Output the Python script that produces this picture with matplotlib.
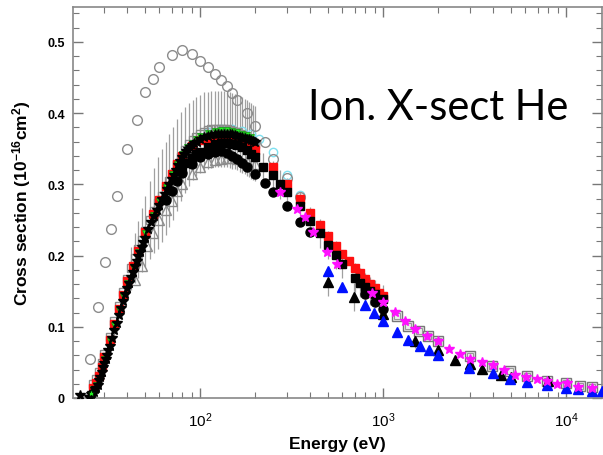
import numpy as np
import matplotlib
matplotlib.use("Agg")
import matplotlib.pyplot as plt
from matplotlib.ticker import FixedLocator, FuncFormatter, LogLocator, MultipleLocator, NullFormatter

plt.rcParams['font.family'] = ['Liberation Sans', 'DejaVu Sans']
plt.rcParams['mathtext.fontset'] = 'custom'
plt.rcParams['mathtext.rm'] = 'Liberation Sans'
plt.rcParams['mathtext.bf'] = 'Liberation Sans:bold'
plt.rcParams['mathtext.default'] = 'regular'

# --- theory (open grey circles)
e_theory = [25, 27.7, 30.3, 32.6, 35.2, 40, 45, 50, 55, 60, 70, 80, 90, 100, 110, 120,
            130, 140, 150, 160, 180, 200, 225, 250, 300, 350]
s_theory = [0.055, 0.128, 0.191, 0.237, 0.284, 0.350, 0.390, 0.430, 0.448, 0.465, 0.482,
            0.489, 0.483, 0.473, 0.465, 0.455, 0.447, 0.438, 0.428, 0.419, 0.400, 0.382,
            0.360, 0.336, 0.309, 0.282]

# --- cyan open circles
e_cyan = [110, 130, 150, 170, 190, 210, 250, 300, 350]
s_cyan = [0.374, 0.377, 0.377, 0.375, 0.370, 0.363, 0.345, 0.313, 0.285]

# --- open squares with error bars (low energy)
e_osq = [26, 27, 28, 29, 30, 32, 34, 36, 38, 40, 42, 44, 46, 48, 50, 53, 56, 59, 62, 65,
         68, 71, 75, 79, 83, 87, 91, 95, 100, 105, 110, 115, 120, 125, 130, 135, 140, 145,
         150, 155, 160, 165, 170, 175, 180, 185, 190, 195, 200]
s_osq = [0.020, 0.026, 0.036, 0.049, 0.062, 0.086, 0.108, 0.129, 0.149, 0.167, 0.182,
         0.196, 0.209, 0.222, 0.234, 0.250, 0.263, 0.274, 0.284, 0.294, 0.305, 0.315,
         0.327, 0.339, 0.348, 0.356, 0.362, 0.367, 0.371, 0.374, 0.376, 0.377, 0.378,
         0.378, 0.378, 0.378, 0.377, 0.376, 0.375, 0.374, 0.373, 0.371, 0.369, 0.367,
         0.365, 0.363, 0.361, 0.359, 0.357]
err_osq = [0, 0, 0, 0, 0, 0, 0, 0, 0, 0, 0.03, 0.035, 0.04, 0.045, 0.05, 0.055, 0.06,
           0.065, 0.065, 0.065, 0.065, 0.065, 0.065, 0.062, 0.06, 0.058, 0.056, 0.055,
           0.055, 0.055, 0.054, 0.054, 0.053, 0.053, 0.053, 0.053, 0.053, 0.053, 0.053,
           0.053, 0.053, 0.053, 0.053, 0.053, 0.053, 0.053, 0.053, 0.053, 0.053]

# --- open squares (high energy)
e_osq_hi = [1191, 1370, 1570, 1760, 1990, 2990, 3940, 4940, 6100, 7850, 10000, 11900, 13900]
s_osq_hi = [0.115, 0.101, 0.094, 0.087, 0.080, 0.059, 0.045, 0.038, 0.031, 0.024, 0.021,
            0.017, 0.015]

# --- red squares
e_red = [26, 27, 28, 29, 30, 32, 34, 36, 38, 40, 43, 46, 50, 55, 60, 65, 70, 75, 80, 90,
         100, 110, 120, 130, 140, 150, 160, 170, 180, 190, 200, 250, 300, 350, 400, 450,
         500, 550, 600, 650, 700, 750, 800, 850, 900, 950, 1000]
s_red = [0.014, 0.021, 0.031, 0.044, 0.057, 0.082, 0.104, 0.125, 0.145, 0.164, 0.186,
         0.207, 0.233, 0.259, 0.278, 0.298, 0.314, 0.329, 0.340, 0.354, 0.362, 0.364,
         0.365, 0.365, 0.364, 0.362, 0.360, 0.357, 0.354, 0.351, 0.348, 0.324, 0.300,
         0.280, 0.260, 0.243, 0.228, 0.214, 0.202, 0.192, 0.183, 0.175, 0.167, 0.160,
         0.154, 0.148, 0.143]

# --- black squares
e_bsq = [80, 85, 90, 95, 100, 110, 120, 130, 140, 150, 160, 170, 180, 190, 200, 220, 250,
         275, 300, 350, 400, 450, 500, 550, 600, 700, 750, 800, 850, 900, 1000]
s_bsq = [0.322, 0.330, 0.337, 0.342, 0.346, 0.352, 0.356, 0.358, 0.358, 0.357, 0.355,
         0.352, 0.348, 0.343, 0.338, 0.324, 0.313, 0.300, 0.289, 0.270, 0.248, 0.231,
         0.215, 0.201, 0.188, 0.169, 0.162, 0.156, 0.150, 0.146, 0.139]
err_bsq = [0] * 15 + [0.02] * 16

# --- black circles
e_bci = [65, 70, 75, 80, 90, 100, 110, 120, 130, 140, 150, 160, 170, 180, 200, 225, 250,
         300, 350, 400, 800, 900, 1000]
s_bci = [0.278, 0.291, 0.304, 0.316, 0.329, 0.338, 0.343, 0.346, 0.347, 0.344, 0.340,
         0.335, 0.330, 0.324, 0.315, 0.302, 0.289, 0.270, 0.247, 0.233, 0.146, 0.135,
         0.125]

# --- open triangles
e_otr = [44, 48, 51, 55, 60, 65, 70, 75, 80, 90, 100, 110, 120, 130, 140, 150, 160, 180, 200]
s_otr = [0.165, 0.185, 0.213, 0.232, 0.250, 0.264, 0.277, 0.290, 0.300, 0.315, 0.325,
         0.331, 0.334, 0.336, 0.337, 0.337, 0.336, 0.333, 0.328]

# --- green triangles
e_grn = [26, 27, 28, 30, 32, 34, 36, 38, 40, 43, 46, 50, 55, 60, 65, 70, 75, 80, 85, 90,
         95, 100, 110, 120, 130, 140, 150, 160, 170, 180, 190]
s_grn = [0.012, 0.018, 0.028, 0.055, 0.080, 0.102, 0.123, 0.143, 0.162, 0.184, 0.205,
         0.231, 0.257, 0.277, 0.296, 0.314, 0.328, 0.342, 0.352, 0.358, 0.364, 0.368,
         0.372, 0.375, 0.376, 0.376, 0.375, 0.373, 0.371, 0.369, 0.366]

# --- black stars
e_bst = [22.1, 24.6, 25, 25.4, 25.8, 26.2, 26.6, 27, 27.5, 28, 28.5, 29, 29.5, 30, 30.5,
         31, 31.5, 32, 33, 34, 35, 36, 37, 38, 39, 40, 41, 42, 43, 44, 45, 46, 47, 48, 49,
         50, 52, 54, 56, 58, 60, 62, 64, 66, 68, 70, 72, 74, 76, 78, 80, 82, 84, 86, 88,
         90, 93, 96, 100, 105, 110, 115, 120, 125, 130, 135, 140, 145, 150, 155, 160, 165,
         170, 175, 180, 185, 190, 195, 200]
s_bst = [0.004, 0.001, 0.002, 0.005, 0.007, 0.009, 0.012, 0.014, 0.018, 0.025, 0.030,
         0.036, 0.043, 0.049, 0.055, 0.061, 0.067, 0.073, 0.084, 0.095, 0.105, 0.116,
         0.126, 0.136, 0.146, 0.155, 0.162, 0.170, 0.177, 0.185, 0.192, 0.199, 0.205,
         0.212, 0.219, 0.225, 0.237, 0.247, 0.256, 0.264, 0.271, 0.279, 0.286, 0.293,
         0.300, 0.307, 0.313, 0.320, 0.327, 0.333, 0.338, 0.343, 0.347, 0.350, 0.353,
         0.355, 0.358, 0.360, 0.363, 0.366, 0.368, 0.369, 0.370, 0.371, 0.371, 0.371,
         0.371, 0.370, 0.370, 0.369, 0.368, 0.367, 0.366, 0.365, 0.364, 0.363, 0.362,
         0.361, 0.360]
e_gst = [25.4]
s_gst = [0.007]

# --- magenta stars
e_mag = [275, 340, 375, 415, 495, 560, 870, 1000, 1160, 1318, 1496, 1737, 2000, 2296,
         2628, 2990, 3480, 3998, 4580, 5290, 6020, 6920, 7860, 8950, 10170, 11600, 13800]
s_mag = [0.289, 0.265, 0.254, 0.233, 0.205, 0.188, 0.148, 0.135, 0.121, 0.108, 0.097,
         0.087, 0.080, 0.069, 0.062, 0.055, 0.051, 0.046, 0.040, 0.032, 0.030, 0.027,
         0.024, 0.020, 0.021, 0.016, 0.014]

# --- blue triangles
e_blu = [500, 596, 797, 893, 1000, 1191, 1370, 1592, 1787, 1995, 2950, 3990, 4940, 6100,
         7850, 10000, 11600, 13900, 15700]
s_blu = [0.178, 0.156, 0.131, 0.119, 0.108, 0.093, 0.081, 0.073, 0.067, 0.060, 0.042,
         0.035, 0.027, 0.022, 0.018, 0.014, 0.012, 0.010, 0.010]

# --- black triangles
e_btr = [500, 694, 1000, 1494, 1995, 2470, 2990, 3480, 4410, 5000, 7950]
s_btr = [0.163, 0.142, 0.118, 0.080, 0.067, 0.053, 0.048, 0.041, 0.032, 0.029, 0.024]
err_btr = [0.02, 0.02, 0.015, 0.01, 0.008, 0, 0, 0, 0, 0, 0]

fig = plt.figure(figsize=(6.03, 4.56), dpi=100)
ax = fig.add_axes([73 / 603, 1 - 399 / 456, 529 / 603, 391 / 456])
ax.set_xscale('log')

grey = '#8c8c8c'
ax.errorbar(e_osq, s_osq, yerr=err_osq, fmt='none', ecolor='#a0a0a0', elinewidth=0.9, zorder=1)
ax.errorbar(e_bsq, s_bsq, yerr=err_bsq, fmt='none', ecolor='#a0a0a0', elinewidth=0.9, zorder=1)
ax.errorbar(e_btr, s_btr, yerr=err_btr, fmt='none', ecolor='#a0a0a0', elinewidth=0.9, zorder=1)

ax.plot(e_cyan, s_cyan, 'o', ms=6, mfc='none', mec='#7fe0f0', mew=1, zorder=2)
ax.plot(e_theory, s_theory, 'o', ms=7, mfc='none', mec=grey, mew=1, zorder=3)
ax.plot(e_otr, s_otr, '^', ms=6.5, mfc='none', mec=grey, mew=1, zorder=3)
ax.plot(e_osq, s_osq, 's', ms=6, mfc='none', mec=grey, mew=1, zorder=3)
ax.plot(e_osq_hi, s_osq_hi, 's', ms=7.5, mfc='#eeeeee', mec='#777777', mew=1, zorder=3)
ax.plot(e_osq_hi, s_osq_hi, 's', ms=4.5, mfc='none', mec='#999999', mew=0.8, zorder=3)
ax.plot(e_red, s_red, 's', ms=6, color='#ff1010', mec='#ff1010', zorder=4)
ax.plot(e_grn, s_grn, 'v', ms=5, color='#22ee22', mec='#119911', mew=0.5, zorder=5)
ax.plot(e_bsq, s_bsq, 's', ms=6, color='black', zorder=6)
ax.plot(e_bci, s_bci, 'o', ms=6.5, color='black', zorder=6)
ax.plot(e_bst, s_bst, '*', ms=7, color='black', zorder=7)
ax.plot(e_gst, s_gst, '*', ms=6, color='#22ee22', mec='black', mew=0.5, zorder=7)
ax.plot(e_btr, s_btr, '^', ms=6.5, color='black', zorder=6)
ax.plot(e_blu, s_blu, '^', ms=6.5, color='#0010ff', zorder=6)
ax.plot(e_mag, s_mag, '*', ms=7, color='#ff10ff', mec='#ff10ff', zorder=7)

ax.set_xlim(20.2, 15740)
ax.set_ylim(0, 0.549)

ax.xaxis.set_major_locator(FixedLocator([1e2, 1e3, 1e4]))
ax.xaxis.set_major_formatter(FuncFormatter(lambda v, p: r'$10^{%d}$' % round(np.log10(v))))
ax.xaxis.set_minor_locator(LogLocator(base=10, subs=np.arange(2, 10), numticks=20))
ax.xaxis.set_minor_formatter(NullFormatter())
ax.yaxis.set_major_locator(MultipleLocator(0.1))
ax.yaxis.set_minor_locator(MultipleLocator(0.02))
ax.yaxis.set_major_formatter(FuncFormatter(lambda v, p: '0' if abs(v) < 1e-9 else '%.1f' % v))

ax.tick_params(which='both', direction='in', top=True, right=True, color='#777777')
ax.tick_params(which='major', length=7, width=1)
ax.tick_params(which='minor', length=4, width=0.8)
ax.tick_params(axis='y', labelsize=9, pad=6)
ax.tick_params(axis='x', labelsize=11, pad=9)
for lab in ax.get_yticklabels():
    lab.set_fontweight('bold')
for sp in ax.spines.values():
    sp.set_color('#888888')
    sp.set_linewidth(1.2)

ax.set_ylabel(r'Cross section (10$^{-16}$cm$^{2}$)', fontsize=12.5, fontweight='bold')
ax.yaxis.set_label_coords(-0.0756, 0.5)
ax.set_xlabel('Energy (eV)', fontsize=12.5, fontweight='bold')
ax.xaxis.set_label_coords(0.5, -0.096)

fig.text(308 / 603, 1 - 120 / 456, 'Ion. X-sect He', fontsize=30, family=['Lato', 'DejaVu Sans'],
         va='baseline', ha='left')

fig.savefig('out.png', dpi=100)
